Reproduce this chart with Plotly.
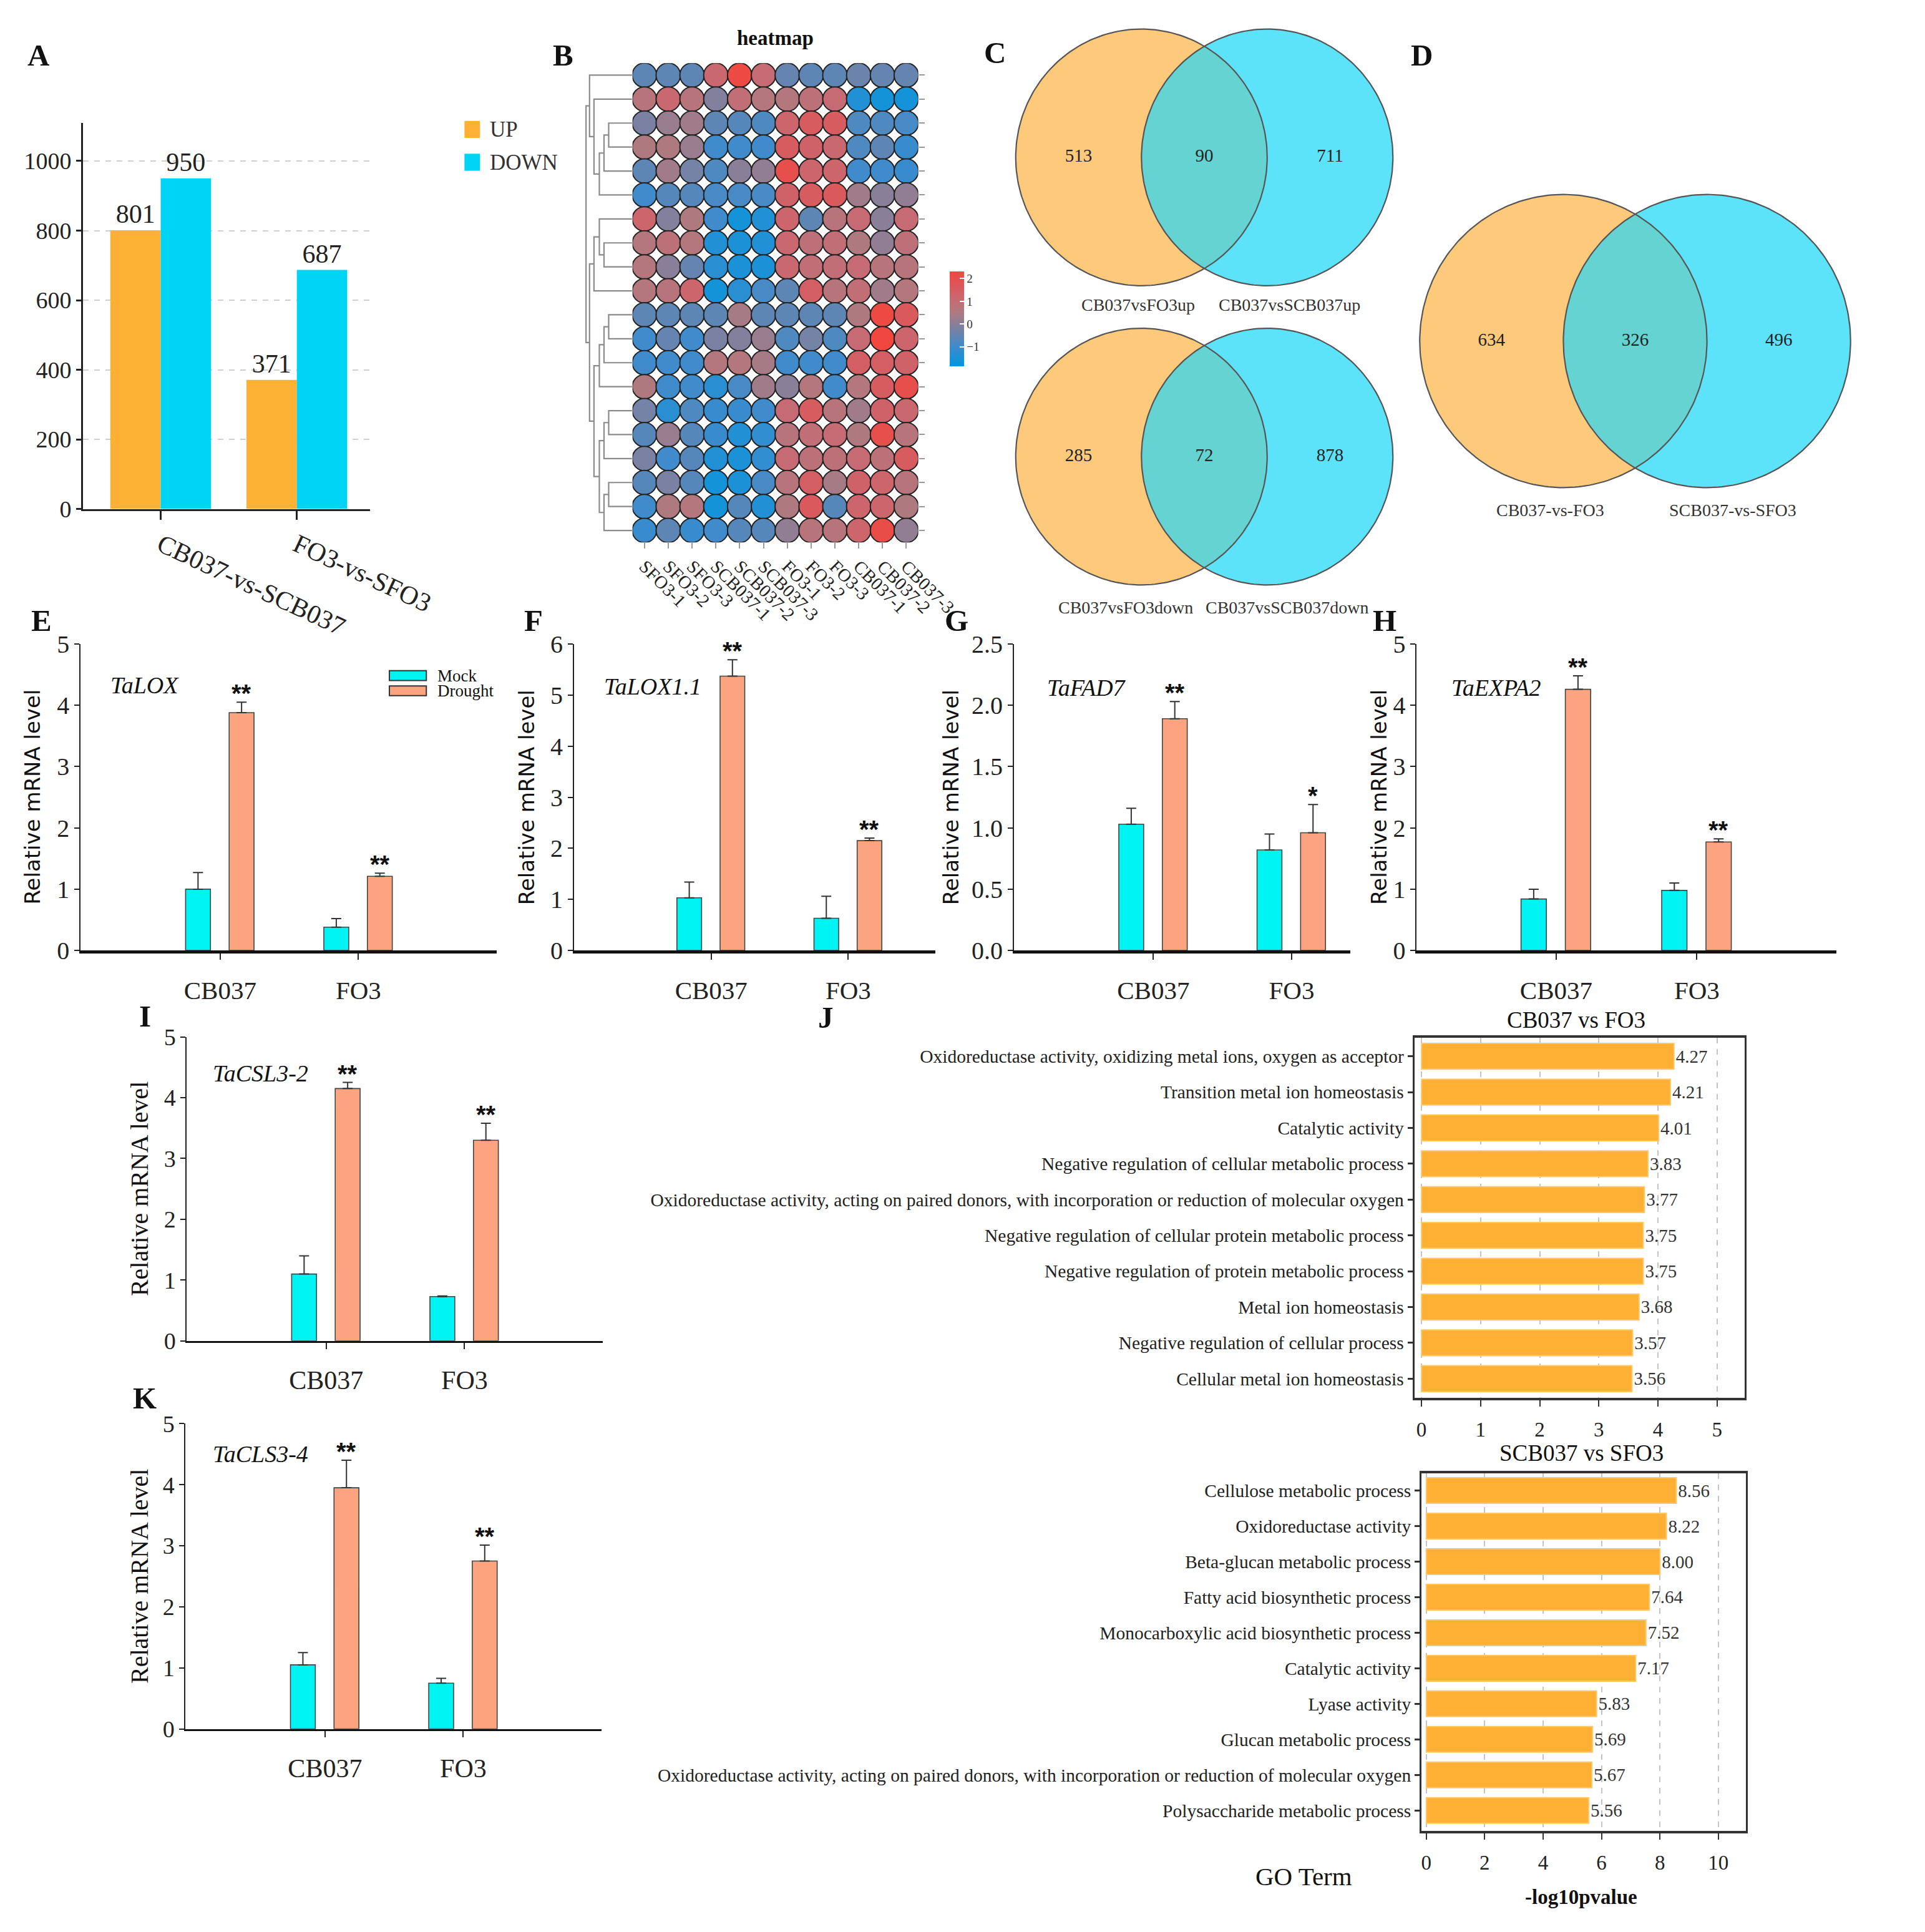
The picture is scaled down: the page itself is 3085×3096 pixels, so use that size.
import numpy as np
import plotly.graph_objects as go

W, H = 3085, 3096
S = 1.978  # preview pixel -> page pixel


def PX(d):
    return d * S / W


def PY(d):
    return 1 - d * S / H


def xdom(a, b):
    return [max(0.0, PX(a)), min(1.0, PX(b))]


def ydom(top, bot):
    return [max(0.0, PY(bot)), min(1.0, PY(top))]


SERIF = "Liberation Serif"
SANS = "DejaVu Sans"

# ------------------------------------------------------------------ data
# A: DEG counts
deg_groups = ["CB037-vs-SCB037", "FO3-vs-SFO3"]
deg_up = [801, 371]
deg_down = [950, 687]
deg_series = ["UP", "DOWN"]

# B: heatmap
heat_samples = ["SFO3-1", "SFO3-2", "SFO3-3", "SCB037-1", "SCB037-2", "SCB037-3",
                "FO3-1", "FO3-2", "FO3-3", "CB037-1", "CB037-2", "CB037-3"]
heat_values = [
    [-0.6, -0.6, -0.6, 1.1, 2.2, 1.0, -0.5, -0.6, -0.6, -0.4, -0.5, -0.5],
    [0.7, 1.1, 0.7, -0.1, 0.9, 0.6, 0.6, 0.8, 1.0, -1.4, -1.6, -1.6],
    [-0.2, 0.2, 0.3, -0.6, -0.7, -0.8, 1.2, 1.5, 1.5, -0.8, -0.8, -0.9],
    [0.5, 0.5, 0.2, -1.0, -1.0, -1.0, 1.5, 1.3, 1.1, -0.8, -0.6, -1.1],
    [-0.6, 0.3, -0.3, -0.8, 0.0, 0.1, 2.0, 1.2, 1.2, -1.0, -1.0, -1.1],
    [-1.0, -0.7, -0.7, -0.9, -0.9, -0.9, 1.3, 1.5, 1.6, 0.3, 0.0, 0.1],
    [1.2, -0.1, 0.5, -1.0, -1.6, -1.4, 1.2, -0.6, 0.7, 1.0, 0.0, 1.0],
    [0.6, 0.8, 0.6, -1.4, -1.5, -1.4, 1.1, 0.8, 0.9, 0.5, 0.1, 0.8],
    [0.6, 0.0, -0.5, -1.3, -1.5, -1.5, 1.1, 0.9, 0.9, 1.0, 0.7, 0.7],
    [0.6, 0.7, 1.2, -1.6, -1.3, -0.9, -0.6, 1.4, 0.7, 0.9, 0.3, 0.6],
    [-0.6, -0.6, -0.6, -0.6, 0.4, -0.6, -0.6, -0.6, -0.6, 0.5, 2.2, 1.6],
    [-1.0, -0.5, -1.0, -0.2, -0.1, 0.2, -0.8, -0.3, -0.8, 1.0, 2.3, 1.2],
    [-1.0, -1.0, -1.0, 0.6, 0.6, 0.4, -1.0, -1.0, -1.0, 1.4, 1.4, 1.3],
    [0.5, -1.0, -1.0, -1.3, -0.9, 0.3, 0.0, 0.6, -1.0, 0.6, 1.5, 2.0],
    [-0.3, -1.3, -0.8, -1.1, -1.1, -1.0, 1.0, 1.5, 0.7, 0.3, 1.3, 1.1],
    [-0.7, 0.2, -0.7, -1.1, -1.4, -1.2, 0.7, 0.9, 1.0, 0.5, 2.0, 0.7],
    [-0.2, -1.0, -0.7, -1.4, -1.5, -1.2, 1.0, 0.8, 0.8, 1.0, 0.8, 1.5],
    [-0.7, -0.2, -0.7, -1.6, -1.5, -0.9, 0.7, 1.4, 0.4, 1.3, 1.2, 0.7],
    [-1.0, 0.5, 0.6, -1.6, -0.7, -1.4, 0.5, 1.6, -0.7, 1.2, 1.2, 0.5],
    [-1.1, -0.6, -1.1, -1.0, -0.7, -0.7, 0.1, 0.7, 0.7, 1.2, 2.1, 0.1],
]
# row dendrogram: (left, right, merge height); leaves are row indices
dendro_tree = (
    (0, (1, (((2, 3, 1.0), 4, 1.2), 5, 1.4), 1.63), 1.82),
    (((6, (7, 8, 1.2), 1.4), 9, 1.63),
     ((((10, 11, 1.0), 12, 1.2), 13, 1.4),
      (((14, 15, 1.0), 16, 1.2), ((17, 18, 1.0), 19, 1.2), 1.4), 1.63), 1.82),
    1.97)
heat_cticks = [-1, 0, 1, 2]

# C, D: Venn counts  [left only, both, right only]
venn_up_sets = ["CB037vsFO3up", "CB037vsSCB037up"]
venn_up_counts = [513, 90, 711]
venn_down_sets = ["CB037vsFO3down", "CB037vsSCB037down"]
venn_down_counts = [285, 72, 878]
venn_d_sets = ["CB037-vs-FO3", "SCB037-vs-SFO3"]
venn_d_counts = [634, 326, 496]

# E-K: qPCR
lines = ["CB037", "FO3"]
treatments = ["Mock", "Drought"]

talox_mock = [1.00, 0.38]
talox_mock_err = [0.27, 0.14]
talox_drought = [3.88, 1.21]
talox_drought_err = [0.17, 0.05]
talox_sig = ["**", "**"]

talox11_mock = [1.03, 0.63]
talox11_mock_err = [0.31, 0.43]
talox11_drought = [5.37, 2.15]
talox11_drought_err = [0.32, 0.05]
talox11_sig = ["**", "**"]

tafad7_mock = [1.03, 0.82]
tafad7_mock_err = [0.13, 0.13]
tafad7_drought = [1.89, 0.96]
tafad7_drought_err = [0.14, 0.23]
tafad7_sig = ["**", "*"]

taexpa2_mock = [0.84, 0.98]
taexpa2_mock_err = [0.16, 0.12]
taexpa2_drought = [4.26, 1.77]
taexpa2_drought_err = [0.22, 0.05]
taexpa2_sig = ["**", "**"]

tacsl32_mock = [1.10, 0.73]
tacsl32_mock_err = [0.30, 0.01]
tacsl32_drought = [4.15, 3.30]
tacsl32_drought_err = [0.10, 0.28]
tacsl32_sig = ["**", "**"]

tacls34_mock = [1.05, 0.75]
tacls34_mock_err = [0.20, 0.08]
tacls34_drought = [3.95, 2.75]
tacls34_drought_err = [0.45, 0.26]
tacls34_sig = ["**", "**"]

# J: GO enrichment
go1_title = "CB037 vs FO3"
go1_terms = ["Oxidoreductase activity, oxidizing metal ions, oxygen as acceptor",
             "Transition metal ion homeostasis",
             "Catalytic activity",
             "Negative regulation of cellular metabolic process",
             "Oxidoreductase activity, acting on paired donors, with incorporation or reduction of molecular oxygen",
             "Negative regulation of cellular protein metabolic process",
             "Negative regulation of protein metabolic process",
             "Metal ion homeostasis",
             "Negative regulation of cellular process",
             "Cellular metal ion homeostasis"]
go1_values = [4.27, 4.21, 4.01, 3.83, 3.77, 3.75, 3.75, 3.68, 3.57, 3.56]
go1_ticks = [0, 1, 2, 3, 4, 5]

go2_title = "SCB037 vs SFO3"
go2_terms = ["Cellulose metabolic process",
             "Oxidoreductase activity",
             "Beta-glucan metabolic process",
             "Fatty acid biosynthetic process",
             "Monocarboxylic acid biosynthetic process",
             "Catalytic activity",
             "Lyase activity",
             "Glucan metabolic process",
             "Oxidoreductase activity, acting on paired donors, with incorporation or reduction of molecular oxygen",
             "Polysaccharide metabolic process"]
go2_values = [8.56, 8.22, 8.00, 7.64, 7.52, 7.17, 5.83, 5.69, 5.67, 5.56]
go2_ticks = [0, 2, 4, 6, 8, 10]

# ------------------------------------------------------------------ styles
C_UP = "#FDB134"
C_DOWN = "#00D4F4"
C_MOCK = "#00F3F3"
C_DROUGHT = "#FCA47F"
C_GO = "#FDB034"
V_LEFT = "#FDC97B"
V_RIGHT = "#5CE2F9"
V_BOTH = "#64D3D2"

fig = go.Figure()
layout = {}
annotations = []
shapes = []


def names(n):
    if n == 1:
        return "xaxis", "yaxis", "x", "y"
    return f"xaxis{n}", f"yaxis{n}", f"x{n}", f"y{n}"


def hidden_axis(**kw):
    d = dict(visible=False, showgrid=False, zeroline=False, fixedrange=True)
    d.update(kw)
    return d


def ann(text, x, y, size, family=SERIF, color="#111", xanchor="center",
        yanchor="middle", angle=0, bold=False, italic=False, **kw):
    if bold:
        text = f"<b>{text}</b>"
    if italic:
        text = f"<i>{text}</i>"
    a = dict(text=text, x=x, y=y, xref="paper", yref="paper", showarrow=False,
             font=dict(size=size, family=family, color=color),
             xanchor=xanchor, yanchor=yanchor, textangle=angle)
    a.update(kw)
    annotations.append(a)


# ------------------------------------------------------------------ A
xa, ya, xr, yr = names(1)
for vals, col, off, nm in [(deg_up, C_UP, -0.37, deg_series[0]),
                           (deg_down, C_DOWN, 0.0, deg_series[1])]:
    fig.add_trace(go.Bar(x=deg_groups, y=vals, name=nm, marker=dict(color=col, line=dict(width=0)),
                         offset=off, width=0.37, xaxis=xr, yaxis=yr,
                         text=vals, textposition="outside", cliponaxis=False,
                         textfont=dict(size=42, family=SERIF, color="#222"),
                         showlegend=False))
layout[xa] = dict(domain=xdom(65, 306), anchor=yr, range=[-0.57, 1.54],
                  showline=True, linewidth=3, linecolor="#222", ticks="outside",
                  ticklen=14, tickwidth=3, tickcolor="#222", tickangle=25,
                  tickfont=dict(size=42, family=SERIF, color="#222"), showgrid=False)
layout[ya] = dict(domain=ydom(85.5, 403), anchor=xr, range=[0, 1110],
                  tickvals=[0, 200, 400, 600, 800, 1000], showline=True, linewidth=3,
                  linecolor="#222", ticks="outside", ticklen=8, tickwidth=3, tickcolor="#222",
                  tickfont=dict(size=38, family=SERIF, color="#222"),
                  showgrid=True, gridcolor="#cfcfcf", griddash="dash", gridwidth=2, zeroline=False)
for i, (nm, col) in enumerate(zip(deg_series, [C_UP, C_DOWN])):
    top = 84 + i * 27
    shapes.append(dict(type="rect", xref="paper", yref="paper", x0=PX(385), x1=PX(398),
                       y0=PY(top + 14), y1=PY(top), fillcolor=col, line=dict(width=0)))
    ann(nm, PX(405), PY(top + 7), 35, color="#333", xanchor="left")

# ------------------------------------------------------------------ B heatmap
xa, ya, xr, yr = names(2)
nrows, ncols = len(heat_values), len(heat_samples)
hx, hy, hz = [], [], []
for r in range(nrows):
    for c in range(ncols):
        hx.append(c)
        hy.append(r)
        hz.append(heat_values[r][c])
cmin, cmax = -1.87, 2.3
stops = [(-1.87, "#0096E0"), (-1.0, "#3F8BCB"), (-0.5, "#6585B0"), (0.0, "#8A7F98"),
         (0.5, "#AE7A80"), (1.0, "#C66B73"), (1.7, "#DC5659"), (2.3, "#F0483F")]
cscale = [[(v - cmin) / (cmax - cmin), c] for v, c in stops]
fig.add_trace(go.Scatter(
    x=hx, y=hy, mode="markers", xaxis=xr, yaxis=yr, showlegend=False,
    marker=dict(size=39, color=hz, colorscale=cscale, cmin=cmin, cmax=cmax,
                line=dict(width=2, color="#222"),
                colorbar=dict(x=PX(792), xanchor="left", y=PY(247), yanchor="middle",
                              len=PY(208) - PY(286), lenmode="fraction", thickness=23,
                              outlinewidth=0, ticks="inside", ticklen=7, tickcolor="white",
                              tickwidth=2, tickvals=heat_cticks, xpad=0, ypad=0,
                              tickfont=dict(size=19, family=SERIF, color="#333")))))
layout[xa] = dict(domain=xdom(526, 765.7), anchor=yr, range=[-0.5, ncols - 0.5],
                  tickvals=list(range(ncols)), ticktext=heat_samples, tickangle=45,
                  ticks="outside", ticklen=9, tickcolor="#999", tickwidth=2, showline=False,
                  showgrid=False, zeroline=False,
                  tickfont=dict(size=29, family=SERIF, color="#222"))
layout[ya] = dict(domain=ydom(36.55, 430.55), anchor=xr, range=[nrows - 0.5, -0.5],
                  tickvals=list(range(nrows)), showticklabels=False, side="right",
                  ticks="outside", ticklen=9, tickcolor="#999", tickwidth=2, showline=False,
                  showgrid=False, zeroline=False)


def walk(node, xs, ys):
    if isinstance(node, int):
        return float(node), 0.0
    a, b, h = node
    y1, h1 = walk(a, xs, ys)
    y2, h2 = walk(b, xs, ys)
    xs.extend([h1, h, h, h2, None])
    ys.extend([y1, y1, y2, y2, None])
    return (y1 + y2) / 2, h


dx, dy = [], []
walk(dendro_tree, dx, dy)
xa3, _, xr3, _ = names(3)
fig.add_trace(go.Scatter(x=dx, y=dy, mode="lines", xaxis=xr3, yaxis=yr, showlegend=False,
                         line=dict(color="#8a8a8a", width=2.2), hoverinfo="skip"))
layout[xa3] = hidden_axis(domain=xdom(486.4, 525.6), anchor=yr, range=[2.0, 0.0])
ann("heatmap", PX(646), PY(16), 33, bold=True)

# ------------------------------------------------------------------ C / D Venn
theta = np.linspace(0, 2 * np.pi, 241)


def venn(n, cx, cy, r, sets, counts, label_pos):
    xa, ya, xr, yr = names(n)
    pad = 1.03
    layout[xa] = hidden_axis(domain=xdom(cx - pad * r, cx + (1 + pad) * r), anchor=yr,
                             range=[-pad, 1 + pad])
    layout[ya] = hidden_axis(domain=ydom(cy - pad * r, cy + pad * r), anchor=xr,
                             range=[-pad, pad])
    lx, ly = np.cos(theta), np.sin(theta)
    fig.add_trace(go.Scatter(x=lx, y=ly, fill="toself", fillcolor=V_LEFT, mode="lines",
                             line=dict(width=0), xaxis=xr, yaxis=yr, showlegend=False,
                             hoverinfo="skip"))
    fig.add_trace(go.Scatter(x=1 + lx, y=ly, fill="toself", fillcolor=V_RIGHT, mode="lines",
                             line=dict(width=0), xaxis=xr, yaxis=yr, showlegend=False,
                             hoverinfo="skip"))
    a1 = np.linspace(-np.pi / 3, np.pi / 3, 80)
    a2 = np.linspace(2 * np.pi / 3, 4 * np.pi / 3, 80)
    lens_x = np.concatenate([np.cos(a1), 1 + np.cos(a2)])
    lens_y = np.concatenate([np.sin(a1), np.sin(a2)])
    fig.add_trace(go.Scatter(x=lens_x, y=lens_y, fill="toself", fillcolor=V_BOTH, mode="lines",
                             line=dict(width=0), xaxis=xr, yaxis=yr, showlegend=False,
                             hoverinfo="skip"))
    for off in (0, 1):
        fig.add_trace(go.Scatter(x=off + lx, y=ly, mode="lines",
                                 line=dict(width=2.2, color="#555"), xaxis=xr, yaxis=yr,
                                 showlegend=False, hoverinfo="skip"))
    fig.add_trace(go.Scatter(x=[-0.5, 0.5, 1.5], y=[0, 0, 0], mode="text",
                             text=[str(c) for c in counts], xaxis=xr, yaxis=yr,
                             textfont=dict(size=29, family=SERIF, color="#222"),
                             showlegend=False, hoverinfo="skip"))
    for s, (px, py) in zip(sets, label_pos):
        ann(s, PX(px), PY(py), 28, color="#333")


venn(4, 953, 114, 105.5, venn_up_sets, venn_up_counts, [(950, 235), (1077, 235)])
venn(5, 953, 360, 105.5, venn_down_sets, venn_down_counts, [(940, 484), (1075, 484)])
venn(6, 1307, 265, 120.5, venn_d_sets, venn_d_counts, [(1296, 404), (1449, 404)])

# ------------------------------------------------------------------ qPCR panels


def qpcr(n, left, cat0, unit, right, top, bot, yr_max, yticks, ytickfmt,
         mock, mock_err, dr, dr_err, sig, gene, gene_xy, ytitle_x, ytitle_font, ytitle_size,
         xline_w, tick_size, cat_size):
    xa, ya, xr, yr = names(n)
    idx = list(range(len(lines)))
    for vals, errs, col, off, nm in [(mock, mock_err, C_MOCK, -0.25, treatments[0]),
                                     (dr, dr_err, C_DROUGHT, 0.065, treatments[1])]:
        fig.add_trace(go.Bar(
            x=idx, y=vals, offset=off, width=0.18, name=nm, xaxis=xr, yaxis=yr,
            marker=dict(color=col, line=dict(color="#444", width=1.6)), showlegend=False,
            error_y=dict(type="data", array=errs, arrayminus=[0] * len(errs), symmetric=False,
                         color="#333", thickness=2, width=8)))
    for i in idx:
        annotations.append(dict(text=f"<b>{sig[i]}</b>", x=i + 0.155, y=dr[i] + dr_err[i],
                                xref=xr, yref=yr, showarrow=False, yanchor="bottom",
                                yshift=-10, font=dict(size=40, family="Liberation Sans",
                                                      color="#111")))
    layout[xa] = dict(domain=xdom(left, right), anchor=yr,
                      range=[(left - cat0) / unit, (right - cat0) / unit],
                      tickvals=idx, ticktext=lines, ticks="outside", ticklen=10, tickwidth=2,
                      tickcolor="#222", showline=True, linewidth=xline_w, linecolor="#111",
                      showgrid=False, zeroline=False, ticklabelstandoff=14,
                      tickfont=dict(size=cat_size, family=SERIF, color="#222"))
    layout[ya] = dict(domain=ydom(top, bot), anchor=xr, range=[0, yr_max], tickvals=yticks,
                      tickformat=ytickfmt, ticks="outside", ticklen=8, tickwidth=2,
                      tickcolor="#222", showline=True, linewidth=2, linecolor="#222",
                      showgrid=False, zeroline=False,
                      tickfont=dict(size=tick_size, family=SERIF, color="#222"))
    ann(gene, PX(gene_xy[0]), PY(gene_xy[1]), 38, italic=True, xanchor="left")
    ann("Relative mRNA level", PX(ytitle_x), PY((top + bot) / 2), ytitle_size,
        family=ytitle_font, angle=-90)


qpcr(7, 63, 180, 116, 412, 514, 766, 5, [0, 1, 2, 3, 4, 5], "d",
     talox_mock, talox_mock_err, talox_drought, talox_drought_err, talox_sig,
     "TaLOX", (87, 548), 22, SANS, 34, 5, 40, 41)
qpcr(8, 477, 592, 115, 780, 514, 766, 6, [0, 1, 2, 3, 4, 5, 6], "d",
     talox11_mock, talox11_mock_err, talox11_drought, talox11_drought_err, talox11_sig,
     "TaLOX1.1", (501, 549), 437, SANS, 34, 5, 40, 41)
qpcr(9, 846, 963, 116, 1128, 514, 766, 2.5, [0, 0.5, 1.0, 1.5, 2.0, 2.5], ".1f",
     tafad7_mock, tafad7_mock_err, tafad7_drought, tafad7_drought_err, tafad7_sig,
     "TaFAD7", (873, 550), 793, SANS, 34, 5, 40, 41)
qpcr(10, 1184, 1301, 118, 1536, 514, 766, 5, [0, 1, 2, 3, 4, 5], "d",
     taexpa2_mock, taexpa2_mock_err, taexpa2_drought, taexpa2_drought_err, taexpa2_sig,
     "TaEXPA2", (1212, 550), 1152, SANS, 34, 5, 40, 41)
qpcr(11, 152, 269, 116, 501, 837, 1087, 5, [0, 1, 2, 3, 4, 5], "d",
     tacsl32_mock, tacsl32_mock_err, tacsl32_drought, tacsl32_drought_err, tacsl32_sig,
     "TaCSL3-2", (173, 867), 112, SERIF, 40, 3, 38, 42)
qpcr(12, 151, 268, 116, 500, 1155, 1406, 5, [0, 1, 2, 3, 4, 5], "d",
     tacls34_mock, tacls34_mock_err, tacls34_drought, tacls34_drought_err, tacls34_sig,
     "TaCLS3-4", (173, 1180), 112, SERIF, 40, 3, 38, 42)

# legend for panel E
for i, (nm, col) in enumerate(zip(treatments, [C_MOCK, C_DROUGHT])):
    top = 536 + i * 12.5
    shapes.append(dict(type="rect", xref="paper", yref="paper", x0=PX(322), x1=PX(353),
                       y0=PY(top + 8), y1=PY(top), fillcolor=col,
                       line=dict(width=2, color="#333")))
    ann(nm, PX(361), PY(top + 4), 27, xanchor="left")

# ------------------------------------------------------------------ J GO bars


def gobar(n, left, zero, unit, right, top, bot, first_c, last_c, terms, vals, ticks,
          title, title_xy):
    xa, ya, xr, yr = names(n)
    idx = list(range(len(terms)))
    step = (last_c - first_c) / (len(terms) - 1)
    fig.add_trace(go.Bar(
        x=vals, y=idx, orientation="h", width=0.72, xaxis=xr, yaxis=yr, showlegend=False,
        marker=dict(color=C_GO, line=dict(color="#FFC66B", width=2)),
        text=vals, texttemplate="%{x:.2f}", textposition="outside", cliponaxis=False,
        textfont=dict(size=29, family=SERIF, color="#333")))
    layout[xa] = dict(domain=xdom(left, right), anchor=yr,
                      range=[(left - zero) / unit, (right - zero) / unit], tickvals=ticks,
                      ticks="outside", ticklen=10, tickwidth=2, tickcolor="#333",
                      showline=True, mirror=True, linewidth=4, linecolor="#333",
                      showgrid=True, gridcolor="#c4c4c4", griddash="dash", gridwidth=2,
                      zeroline=False, ticklabelstandoff=8,
                      tickfont=dict(size=33, family=SERIF, color="#222"))
    layout[ya] = dict(domain=ydom(top, bot), anchor=xr,
                      range=[(bot - first_c) / step, (top - first_c) / step],
                      tickvals=idx, ticktext=terms, ticks="outside", ticklen=8, tickwidth=3,
                      tickcolor="#333", showline=True, mirror=True, linewidth=3,
                      linecolor="#333", showgrid=False, zeroline=False,
                      tickfont=dict(size=29.5, family=SERIF, color="#222"))
    ann(title, PX(title_xy[0]), PY(title_xy[1]), 37)


gobar(13, 1182, 1188, 49.6, 1459, 838, 1134, 853, 1118, go1_terms, go1_values, go1_ticks,
      go1_title, (1318, 823))
gobar(14, 1188, 1192, 24.5, 1460, 1196, 1490, 1210, 1473, go2_terms, go2_values, go2_ticks,
      go2_title, (1322, 1179))
ann("GO Term", PX(1089), PY(1527), 41)
ann("-log10pvalue", PX(1322), PY(1544), 33, bold=True)

# ------------------------------------------------------------------ panel letters
for letter, (lx, ly) in {"A": (28, 30), "B": (468, 30), "C": (830, 28), "D": (1188, 30),
                         "E": (30, 495), "F": (443, 495), "G": (798, 495), "H": (1157, 495),
                         "I": (117, 820), "J": (688, 821), "K": (117, 1134)}.items():
    ann(letter, PX(lx), PY(ly), 49, bold=True)

fig.update_layout(
    width=W, height=H, margin=dict(l=0, r=0, t=0, b=0),
    paper_bgcolor="white", plot_bgcolor="rgba(0,0,0,0)",
    barmode="overlay", showlegend=False,
    font=dict(family=SERIF, color="#222"),
    annotations=annotations, shapes=shapes, **layout)

fig.write_html("out.html")
